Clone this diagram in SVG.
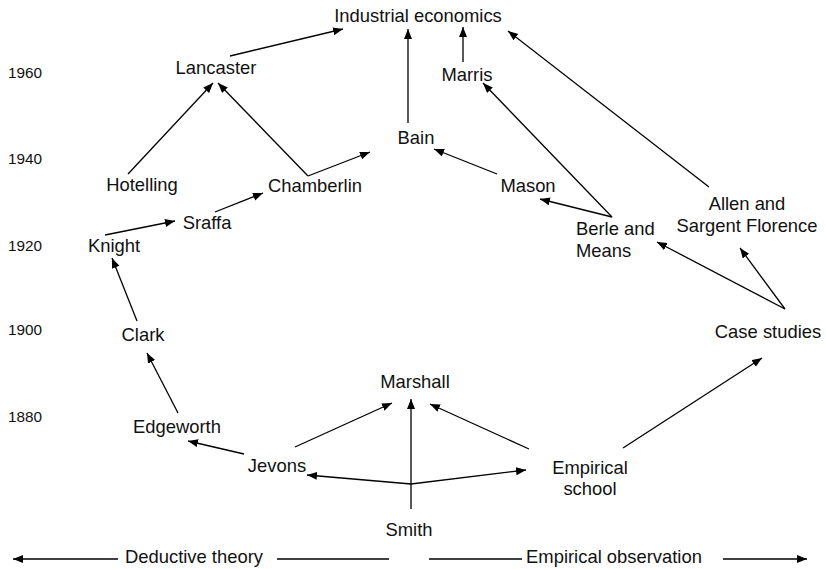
<svg xmlns="http://www.w3.org/2000/svg" width="826" height="569" viewBox="0 0 826 569">
  <defs>
    <marker id="arrow" markerUnits="userSpaceOnUse" markerWidth="11" markerHeight="9" refX="10" refY="4" orient="auto">
      <path d="M0,0 L10,4 L0,8 z" fill="#000"/>
    </marker>
    <style>
      text { font-family: "Liberation Sans", Arial, Helvetica, sans-serif; fill: #111; }
      .node { font-size: 18.4px; text-anchor: middle; }
      .left { text-anchor: start; }
      .year { font-size: 15.3px; }
      .edge { stroke: #000; stroke-width: 1.3; fill: none; }
      .arr { marker-end: url(#arrow); }
    </style>
  </defs>

  <rect width="826" height="569" fill="#fff"/>

  <!-- time axis -->
  <g id="years">
    <text class="year" x="8" y="78">1960</text>
    <text class="year" x="8" y="164">1940</text>
    <text class="year" x="8" y="251">1920</text>
    <text class="year" x="8" y="335">1900</text>
    <text class="year" x="8" y="422">1880</text>
  </g>

  <!-- nodes -->
  <g id="industrial-economics"><text class="node" x="418" y="22">Industrial economics</text></g>
  <g id="lancaster"><text class="node" x="216" y="74">Lancaster</text></g>
  <g id="marris"><text class="node" x="467" y="81">Marris</text></g>
  <g id="bain"><text class="node" x="416" y="144">Bain</text></g>
  <g id="hotelling"><text class="node" x="142" y="191">Hotelling</text></g>
  <g id="chamberlin"><text class="node" x="315" y="192">Chamberlin</text></g>
  <g id="mason"><text class="node" x="528" y="192">Mason</text></g>
  <g id="sraffa"><text class="node" x="207" y="229">Sraffa</text></g>
  <g id="knight"><text class="node" x="114" y="252">Knight</text></g>
  <g id="berle-means">
    <text class="node left" x="576" y="235">Berle and</text>
    <text class="node left" x="576" y="257">Means</text>
  </g>
  <g id="allen-florence">
    <text class="node" x="747" y="210">Allen and</text>
    <text class="node" x="747" y="232">Sargent Florence</text>
  </g>
  <g id="clark"><text class="node" x="143" y="341">Clark</text></g>
  <g id="case-studies"><text class="node" x="768" y="338">Case studies</text></g>
  <g id="marshall"><text class="node" x="415" y="388">Marshall</text></g>
  <g id="edgeworth"><text class="node" x="177" y="433">Edgeworth</text></g>
  <g id="jevons"><text class="node" x="277" y="472">Jevons</text></g>
  <g id="empirical-school">
    <text class="node" x="590" y="474">Empirical</text>
    <text class="node" x="590" y="495">school</text>
  </g>
  <g id="smith"><text class="node" x="409" y="536">Smith</text></g>

  <!-- connectors -->
  <g id="connectors">
    <line class="edge arr" x1="230" y1="56" x2="343" y2="29"/>
    <line class="edge arr" x1="128" y1="174" x2="213" y2="83"/>
    <line class="edge arr" x1="308" y1="176" x2="218" y2="83"/>
    <line class="edge arr" x1="308" y1="176" x2="370" y2="152"/>
    <line class="edge arr" x1="408" y1="123" x2="408" y2="29"/>
    <line class="edge arr" x1="463" y1="62" x2="463" y2="27"/>
    <line class="edge arr" x1="709" y1="187" x2="508" y2="31"/>
    <line class="edge arr" x1="612" y1="217" x2="483" y2="83"/>
    <line class="edge arr" x1="612" y1="217" x2="540" y2="199"/>
    <line class="edge arr" x1="497" y1="174" x2="434" y2="149"/>
    <line class="edge arr" x1="785" y1="309" x2="657" y2="242"/>
    <line class="edge arr" x1="785" y1="309" x2="740" y2="248"/>
    <line class="edge arr" x1="623" y1="448" x2="762" y2="358"/>
    <line class="edge arr" x1="529" y1="449" x2="430" y2="404"/>
    <line class="edge arr" x1="411" y1="509" x2="411" y2="399"/>
    <line class="edge arr" x1="411" y1="484" x2="526" y2="470"/>
    <line class="edge arr" x1="411" y1="484" x2="307" y2="475"/>
    <line class="edge arr" x1="295" y1="447" x2="392" y2="403"/>
    <line class="edge arr" x1="244" y1="454" x2="188" y2="441"/>
    <line class="edge arr" x1="178" y1="413" x2="147" y2="353"/>
    <line class="edge arr" x1="137" y1="321" x2="112" y2="258"/>
    <line class="edge arr" x1="105" y1="235" x2="175" y2="221"/>
    <line class="edge arr" x1="215" y1="212" x2="263" y2="193"/>
  </g>

  <!-- deductive / empirical spectrum -->
  <g id="spectrum">
    <line class="edge arr" x1="118" y1="559" x2="13" y2="559"/>
    <text class="node" x="194" y="563">Deductive theory</text>
    <line class="edge" x1="277" y1="559" x2="389" y2="559"/>
    <line class="edge" x1="429" y1="559" x2="522" y2="559"/>
    <text class="node" x="614" y="563">Empirical observation</text>
    <line class="edge arr" x1="723" y1="559" x2="807" y2="559"/>
  </g>
</svg>
